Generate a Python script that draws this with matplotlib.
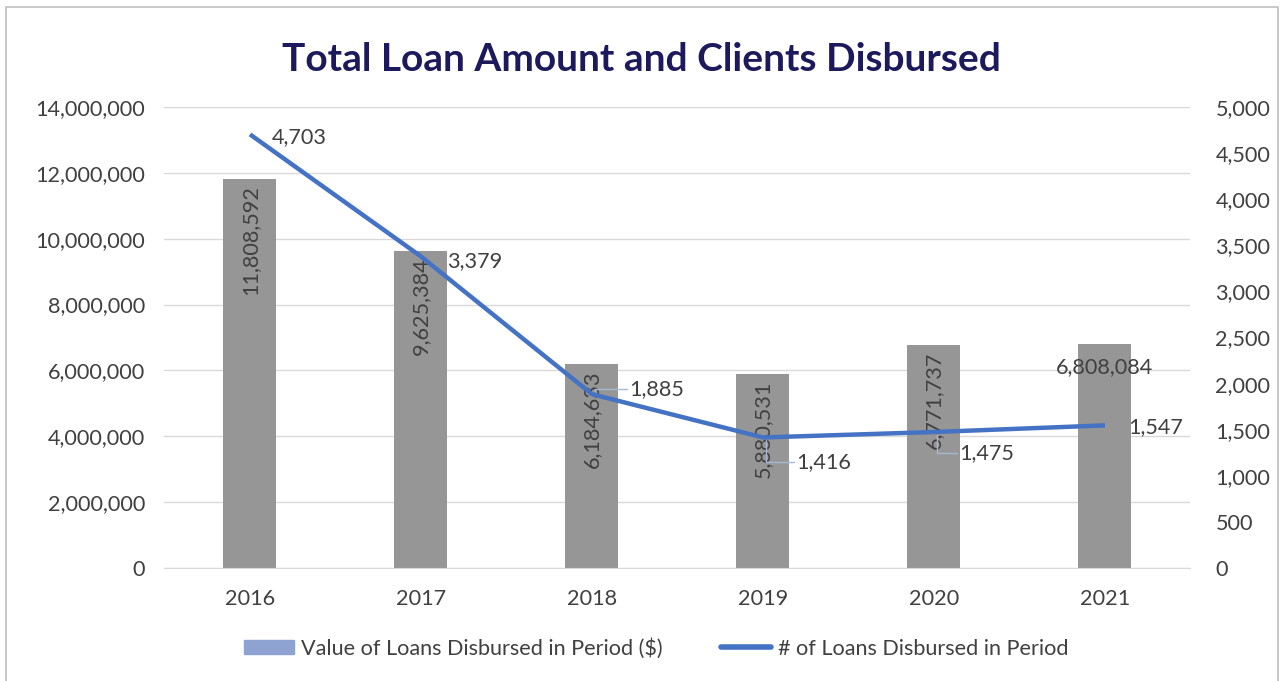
import matplotlib.pyplot as plt
from matplotlib.patches import Rectangle
from matplotlib.lines import Line2D
from matplotlib.ticker import FuncFormatter, MultipleLocator

plt.rcParams['font.family'] = ['Lato', 'DejaVu Sans']

# data
years = ['2016', '2017', '2018', '2019', '2020', '2021']
loan_value = [11808592, 9625384, 6184633, 5880531, 6771737, 6808084]
loan_count = [4703, 3379, 1885, 1416, 1475, 1547]

bar_color = '#969696'
line_color = '#4472C4'
text_color = '#404040'
fs = 15.6

fig = plt.figure(figsize=(12.82, 6.81), dpi=100)
ax = fig.add_axes([0.1283, 0.1659, 0.8003, 0.677])
ax2 = ax.twinx()

x = list(range(len(years)))
ax.bar(x, loan_value, width=0.31, color=bar_color, zorder=2)
ax.set_xlim(-0.5, len(years) - 0.5)
ax.set_ylim(0, 14000000)
ax.yaxis.set_major_locator(MultipleLocator(2000000))
ax.yaxis.set_major_formatter(FuncFormatter(lambda v, p: f'{int(v):,}'))
ax.grid(axis='y', color='#d9d9d9', linewidth=1, zorder=0)
ax.set_xticks(x)
ax.set_xticklabels(years)

ax2.plot(x, loan_count, color=line_color, linewidth=3.2, solid_capstyle='butt', zorder=3)
ax2.set_ylim(0, 5000)
ax2.yaxis.set_major_locator(MultipleLocator(500))
ax2.yaxis.set_major_formatter(FuncFormatter(lambda v, p: f'{int(v):,}'))

for a in (ax, ax2):
    for s in a.spines.values():
        s.set_visible(False)
    a.tick_params(length=0, labelsize=fs, labelcolor=text_color)
ax.tick_params(axis='y', pad=14)
ax2.tick_params(axis='y', pad=18)
ax.tick_params(axis='x', pad=15)
ax.spines['bottom'].set_visible(True)
ax.spines['bottom'].set_color('#d9d9d9')

# bar labels
for i, v in enumerate(loan_value):
    lab = f'{v:,}'
    if i == len(years) - 1:
        ax.annotate(lab, (i, v), xytext=(0, -17), textcoords='offset points',
                    ha='center', va='center', fontsize=fs, color=text_color, zorder=4)
    else:
        ax.annotate(lab, (i, v), xytext=(0, -4.5), textcoords='offset points',
                    ha='center', va='top', rotation=90, fontsize=fs,
                    color=text_color, zorder=4)

# line labels
offsets = [(16, -2), (19, -3), (27, 4), (24, -18), (18, -15), (17, -1.5)]
leaders = [False, False, True, True, True, False]
for i, v in enumerate(loan_count):
    dx, dy = offsets[i]
    ax2.annotate(f'{v:,}', (i, v), xytext=(dx, dy), textcoords='offset points',
                 ha='left', va='center', fontsize=fs, color=text_color, zorder=5)
    if leaders[i]:
        ax2.annotate('', (i + 0.02, v), xytext=(dx - 2, dy), textcoords='offset points',
                     arrowprops=dict(arrowstyle='-', color='#a6b8d4', lw=1,
                                     connectionstyle='angle,angleA=0,angleB=90,rad=0'),
                     zorder=5)

fig.text(0.5, 0.913, 'Total Loan Amount and Clients Disbursed', ha='center', va='center',
         fontsize=28, fontweight='bold', color='#1c1a5c')

handles = [Rectangle((0, 0), 1, 1, color='#8fa3d3'),
           Line2D([0], [0], color=line_color, linewidth=4, solid_capstyle='round')]
fig.legend(handles, ['Value of Loans Disbursed in Period ($)', '# of Loans Disbursed in Period'],
           loc='center', bbox_to_anchor=(0.512, 0.048), ncol=2, frameon=False,
           fontsize=fs, labelcolor=text_color, handlelength=2.3, handleheight=0.6,
           columnspacing=2.7, handletextpad=0.33)

fig.patches.append(Rectangle((6 / 1282, -0.05), 1272 / 1282, 1 - 7 / 681 + 0.05,
                             transform=fig.transFigure, fill=False,
                             edgecolor='#bfbfbf', linewidth=1.2))

fig.savefig('out.png', dpi=100)
